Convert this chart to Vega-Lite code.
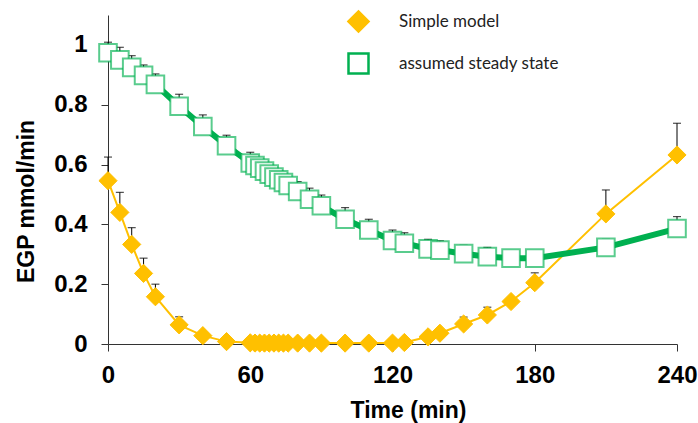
{
  "$schema": "https://vega.github.io/schema/vega-lite/v6.json",
  "autosize": "none",
  "padding": {"left": 108, "top": 15, "right": 21, "bottom": 79},
  "width": 569,
  "height": 329,
  "background": "white",
  "data": {
    "values": [
      {"series": "Simple model", "t": 0, "v": 0.546, "hi": 0.625},
      {"series": "Simple model", "t": 5, "v": 0.44, "hi": 0.507},
      {"series": "Simple model", "t": 10, "v": 0.333, "hi": 0.389},
      {"series": "Simple model", "t": 15, "v": 0.236, "hi": 0.287},
      {"series": "Simple model", "t": 20, "v": 0.158, "hi": 0.2},
      {"series": "Simple model", "t": 30, "v": 0.064, "hi": 0.091},
      {"series": "Simple model", "t": 40, "v": 0.028, "hi": 0.035},
      {"series": "Simple model", "t": 50, "v": 0.008, "hi": 0.01},
      {"series": "Simple model", "t": 60, "v": 0.004, "hi": 0.005},
      {"series": "Simple model", "t": 62, "v": 0.003, "hi": 0.004},
      {"series": "Simple model", "t": 64, "v": 0.003, "hi": 0.004},
      {"series": "Simple model", "t": 66, "v": 0.003, "hi": 0.004},
      {"series": "Simple model", "t": 68, "v": 0.003, "hi": 0.004},
      {"series": "Simple model", "t": 70, "v": 0.003, "hi": 0.004},
      {"series": "Simple model", "t": 72, "v": 0.003, "hi": 0.004},
      {"series": "Simple model", "t": 74, "v": 0.003, "hi": 0.004},
      {"series": "Simple model", "t": 76, "v": 0.003, "hi": 0.004},
      {"series": "Simple model", "t": 80, "v": 0.003, "hi": 0.004},
      {"series": "Simple model", "t": 85, "v": 0.003, "hi": 0.004},
      {"series": "Simple model", "t": 90, "v": 0.003, "hi": 0.004},
      {"series": "Simple model", "t": 100, "v": 0.003, "hi": 0.004},
      {"series": "Simple model", "t": 110, "v": 0.003, "hi": 0.004},
      {"series": "Simple model", "t": 120, "v": 0.003, "hi": 0.004},
      {"series": "Simple model", "t": 125, "v": 0.005, "hi": 0.006},
      {"series": "Simple model", "t": 135, "v": 0.024, "hi": 0.03},
      {"series": "Simple model", "t": 140, "v": 0.036, "hi": 0.045},
      {"series": "Simple model", "t": 150, "v": 0.067, "hi": 0.09},
      {"series": "Simple model", "t": 160, "v": 0.097, "hi": 0.123},
      {"series": "Simple model", "t": 170, "v": 0.142, "hi": 0.15},
      {"series": "Simple model", "t": 180, "v": 0.205, "hi": 0.238},
      {"series": "Simple model", "t": 210, "v": 0.435, "hi": 0.515},
      {"series": "Simple model", "t": 240, "v": 0.632, "hi": 0.738},
      {"series": "assumed steady state", "t": 0, "v": 0.974, "hi": 1.009},
      {"series": "assumed steady state", "t": 5, "v": 0.95, "hi": 0.992},
      {"series": "assumed steady state", "t": 10, "v": 0.925, "hi": 0.964},
      {"series": "assumed steady state", "t": 15, "v": 0.898, "hi": 0.933},
      {"series": "assumed steady state", "t": 20, "v": 0.868, "hi": 0.903},
      {"series": "assumed steady state", "t": 30, "v": 0.795, "hi": 0.835},
      {"series": "assumed steady state", "t": 40, "v": 0.727, "hi": 0.766},
      {"series": "assumed steady state", "t": 50, "v": 0.663, "hi": 0.698},
      {"series": "assumed steady state", "t": 60, "v": 0.605, "hi": 0.641},
      {"series": "assumed steady state", "t": 62, "v": 0.597, "hi": 0.632},
      {"series": "assumed steady state", "t": 64, "v": 0.588, "hi": 0.622},
      {"series": "assumed steady state", "t": 66, "v": 0.578, "hi": 0.612},
      {"series": "assumed steady state", "t": 68, "v": 0.568, "hi": 0.601},
      {"series": "assumed steady state", "t": 70, "v": 0.558, "hi": 0.59},
      {"series": "assumed steady state", "t": 72, "v": 0.549, "hi": 0.58},
      {"series": "assumed steady state", "t": 74, "v": 0.54, "hi": 0.57},
      {"series": "assumed steady state", "t": 76, "v": 0.53, "hi": 0.56},
      {"series": "assumed steady state", "t": 80, "v": 0.51, "hi": 0.543},
      {"series": "assumed steady state", "t": 85, "v": 0.484, "hi": 0.521},
      {"series": "assumed steady state", "t": 90, "v": 0.462, "hi": 0.498},
      {"series": "assumed steady state", "t": 100, "v": 0.417, "hi": 0.456},
      {"series": "assumed steady state", "t": 110, "v": 0.381, "hi": 0.417},
      {"series": "assumed steady state", "t": 120, "v": 0.346, "hi": 0.381},
      {"series": "assumed steady state", "t": 125, "v": 0.337, "hi": 0.372},
      {"series": "assumed steady state", "t": 135, "v": 0.318, "hi": 0.35},
      {"series": "assumed steady state", "t": 140, "v": 0.314, "hi": 0.345},
      {"series": "assumed steady state", "t": 150, "v": 0.302, "hi": 0.33},
      {"series": "assumed steady state", "t": 160, "v": 0.292, "hi": 0.323},
      {"series": "assumed steady state", "t": 170, "v": 0.287, "hi": 0.31},
      {"series": "assumed steady state", "t": 180, "v": 0.287, "hi": 0.3},
      {"series": "assumed steady state", "t": 210, "v": 0.323, "hi": 0.35},
      {"series": "assumed steady state", "t": 240, "v": 0.386, "hi": 0.426}
    ]
  },
  "encoding": {
    "x": {
      "field": "t", "type": "quantitative",
      "scale": {"domain": [0, 240], "nice": false, "zero": false},
      "axis": {
        "values": [0, 60, 120, 180, 240],
        "title": "Time (min)",
        "labelPadding": 12,
        "labelFlush": false,
        "titleX": 300, "titleY": 66,
        "titleAlign": "center", "titleBaseline": "middle"
      }
    },
    "y": {
      "field": "v", "type": "quantitative",
      "scale": {"domain": [0, 1.1], "nice": false},
      "axis": {
        "values": [0, 0.2, 0.4, 0.6, 0.8, 1],
        "format": "~g",
        "title": "EGP mmol/min",
        "labelPadding": 14,
        "labelFlush": false,
        "titleX": -82, "titleY": 186,
        "titleAngle": -90,
        "titleAlign": "center", "titleBaseline": "middle"
      }
    }
  },
  "layer": [
    {
      "mark": {"type": "rule", "color": "#000000", "strokeWidth": 1},
      "encoding": {"y2": {"field": "hi"}}
    },
    {
      "mark": {"type": "tick", "orient": "horizontal", "color": "#000000", "thickness": 1.2, "size": 8},
      "encoding": {"y": {"field": "hi", "type": "quantitative"}}
    },
    {
      "transform": [{"filter": "datum.series === 'Simple model'"}],
      "mark": {"type": "line", "color": "#FFC000", "strokeWidth": 2},
      "encoding": {}
    },
    {
      "transform": [{"filter": "datum.series === 'Simple model'"}],
      "mark": {"type": "point", "filled": true, "size": 330, "strokeWidth": 1, "opacity": 1},
      "encoding": {
        "shape": {"field": "series", "type": "nominal", "scale": {"domain": ["Simple model", "assumed steady state"], "range": ["diamond", "square"]}, "legend": {"title": null}},
        "fill": {"field": "series", "type": "nominal", "scale": {"domain": ["Simple model", "assumed steady state"], "range": ["#FFC000", "#FFFFFF"]}, "legend": {"title": null}},
        "stroke": {"field": "series", "type": "nominal", "scale": {"domain": ["Simple model", "assumed steady state"], "range": ["#FFC000", "#00B050"]}, "legend": {"title": null}}
      }
    },
    {
      "transform": [{"filter": "datum.series === 'assumed steady state'"}],
      "mark": {"type": "line", "color": "#00B050", "strokeWidth": 6},
      "encoding": {}
    },
    {
      "transform": [{"filter": "datum.series === 'assumed steady state'"}],
      "mark": {"type": "point", "filled": true, "size": 310, "strokeWidth": 2, "opacity": 1, "strokeOpacity": 0.65},
      "encoding": {
        "shape": {"field": "series", "type": "nominal", "legend": {"title": null}},
        "fill": {"field": "series", "type": "nominal", "legend": {"title": null}},
        "stroke": {"field": "series", "type": "nominal", "legend": {"title": null}}
      }
    }
  ],
  "resolve": {"scale": {"shape": "shared", "fill": "shared", "stroke": "shared"}},
  "config": {
    "font": "Liberation Sans",
    "view": {"stroke": null},
    "axis": {
      "grid": false,
      "domainColor": "#333333",
      "tickColor": "#333333",
      "tickSize": 7,
      "labelFont": "Liberation Sans",
      "labelFontWeight": 700,
      "labelFontSize": 24,
      "labelColor": "#000000",
      "titleFont": "Liberation Sans",
      "titleFontWeight": 700,
      "titleFontSize": 23,
      "titleColor": "#000000"
    },
    "legend": {
      "orient": "none",
      "legendX": 239,
      "legendY": -5,
      "padding": 0,
      "rowPadding": 11,
      "labelOffset": 29,
      "symbolSize": 400,
      "symbolStrokeWidth": 2.5,
      "symbolOpacity": 1,
      "labelFont": "Lato",
      "labelFontSize": 17,
      "labelColor": "#222222",
      "labelLimit": 300
    }
  }
}
